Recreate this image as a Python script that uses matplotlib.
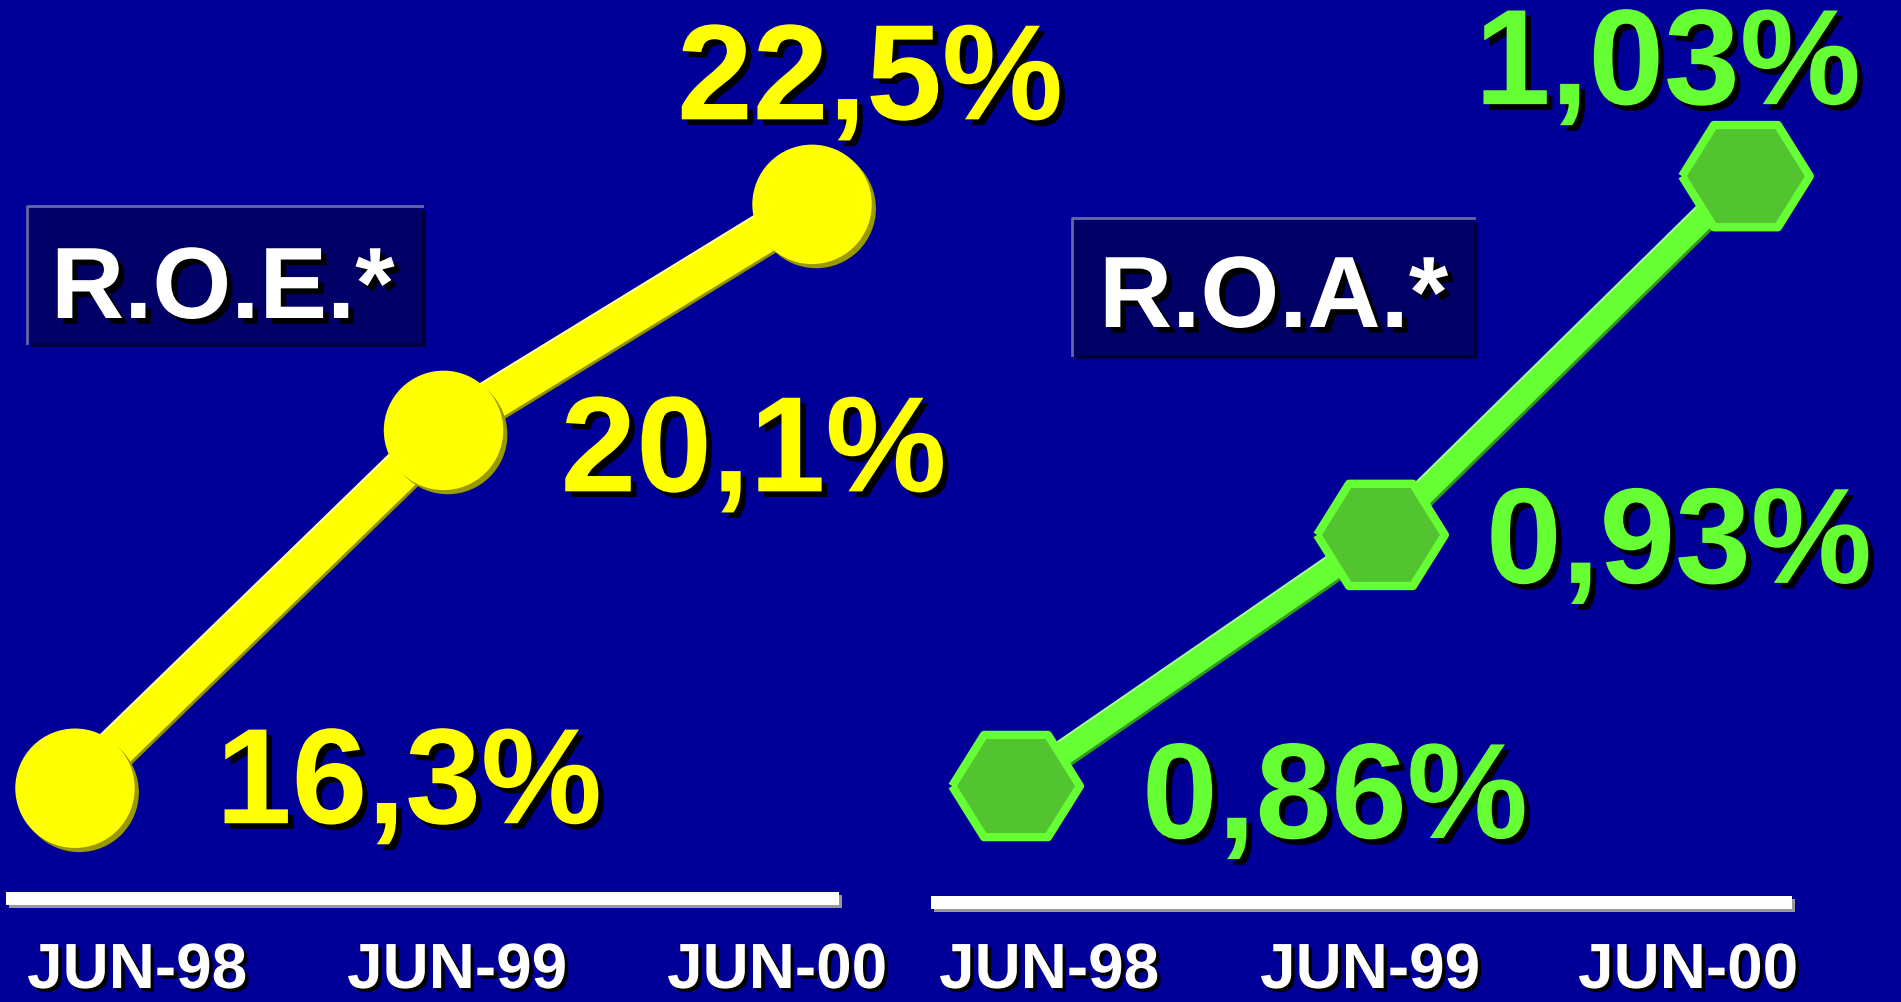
import matplotlib
matplotlib.use('Agg')
import matplotlib.pyplot as plt
import matplotlib.patheffects as pe
from matplotlib.patches import Rectangle
from matplotlib.lines import Line2D

# data
dates = ['JUN-98', 'JUN-99', 'JUN-00']
roe = [16.3, 20.1, 22.5]
roa = [0.86, 0.93, 1.03]
roe_labels = ['16,3%', '20,1%', '22,5%']
roa_labels = ['0,86%', '0,93%', '1,03%']

W, H = 1901, 1002
BG = '#000099'
YELLOW = '#ffff00'
GREEN = '#66ff33'
FONT = 'Liberation Sans'

fig = plt.figure(figsize=(W / 100, H / 100), dpi=100)
fig.patch.set_facecolor(BG)


def fx(x):
    return x / W


def fy(y):
    # y measured from the top of the picture
    return 1 - y / H


txt_shadow = [pe.SimplePatchShadow(offset=(4, -4), shadow_rgbFace='black', alpha=1), pe.Normal()]

# flat-topped hexagon, a bit wider than tall
hexagon = [(-1, 0), (-0.5, 0.8), (0.5, 0.8), (1, 0), (0.5, -0.8), (-0.5, -0.8), (-1, 0)]

# ---- left panel: R.O.E.
ax1 = fig.add_axes([0, 0, 1, 1])
ax1.set_xlim(-0.2035, 4.955)
ax1.set_ylim(14.03, 24.67)
ax1.axis('off')
ax1.patch.set_alpha(0)

ax1.plot(range(3), roe, color=YELLOW, lw=28, solid_capstyle='butt',
         path_effects=[pe.SimpleLineShadow(offset=(1.5, -1.5), shadow_color='#8f8f00', alpha=1),
                       pe.SimpleLineShadow(offset=(-1, 1), shadow_color='#ffff99', alpha=1),
                       pe.Normal()])
ax1.plot(range(3), roe, ls='none', marker='o', ms=86, mfc=YELLOW, mec=YELLOW, mew=0,
         path_effects=[pe.SimplePatchShadow(offset=(3, -3), shadow_rgbFace='#9a9a00', alpha=1), pe.Normal()])

roe_offsets = [(141, -35), (117, -61), (-135, 85)]
for i, (v, lab) in enumerate(zip(roe, roe_labels)):
    ax1.annotate(lab, (i, v), xytext=roe_offsets[i], textcoords='offset pixels',
                 ha='left', va='baseline', fontsize=98, fontweight='bold', family=FONT,
                 color=YELLOW, path_effects=txt_shadow)

# ---- right panel: R.O.A.
ax2 = fig.add_axes([0, 0, 1, 1])
ax2.set_xlim(-2.784, 2.425)
ax2.set_ylim(0.7998, 1.0791)
ax2.axis('off')
ax2.patch.set_alpha(0)

ax2.plot(range(3), roa, color=GREEN, lw=17, solid_capstyle='butt',
         path_effects=[pe.SimpleLineShadow(offset=(1.5, -1.5), shadow_color='#2f9a1f', alpha=1),
                       pe.SimpleLineShadow(offset=(-1, 1), shadow_color='#a6ff88', alpha=1),
                       pe.Normal()])
ax2.plot(range(3), roa, ls='none', marker=hexagon, ms=92, mfc='#52c430', mec=GREEN, mew=6,
         path_effects=[pe.SimplePatchShadow(offset=(2, -2), shadow_rgbFace='#2f8a1f', alpha=1), pe.Normal()])

roa_offsets = [(126, -52), (105, -48), (-271, 72)]
for i, (v, lab) in enumerate(zip(roa, roa_labels)):
    ax2.annotate(lab, (i, v), xytext=roa_offsets[i], textcoords='offset pixels',
                 ha='left', va='baseline', fontsize=98, fontweight='bold', family=FONT,
                 color=GREEN, path_effects=txt_shadow)

# ---- title boxes
for (x0, y0, x1, y1, tx, ty, label) in [(27, 206, 422, 343, 51, 318, 'R.O.E.*'),
                                         (1072, 218, 1474, 355, 1099, 327, 'R.O.A.*')]:
    box = Rectangle((fx(x0), fy(y1)), fx(x1 - x0), (y1 - y0) / H, transform=fig.transFigure,
                    facecolor='#000066', edgecolor='none',
                    path_effects=[pe.SimplePatchShadow(offset=(3, -3), shadow_rgbFace='#00003a', alpha=1),
                                  pe.Normal()])
    fig.add_artist(box)
    fig.add_artist(Line2D([fx(x0), fx(x0), fx(x1)], [fy(y1), fy(y0), fy(y0)],
                          transform=fig.transFigure, color='#6666aa', lw=2))
    fig.text(fx(tx), fy(ty), label, ha='left', va='baseline', fontsize=73, fontweight='bold',
             family=FONT, color='white', path_effects=txt_shadow)

# ---- baselines
for (x0, x1, y0, y1) in [(6, 839, 892, 905), (931, 1792, 896, 909)]:
    bar = Rectangle((fx(x0), fy(y1)), fx(x1 - x0), (y1 - y0) / H, transform=fig.transFigure,
                    facecolor='white', edgecolor='none',
                    path_effects=[pe.SimplePatchShadow(offset=(2.5, -2.5), shadow_rgbFace='#999999', alpha=1),
                                  pe.Normal()])
    fig.add_artist(bar)

# ---- date labels
date_x = [[137, 457, 777], [1049, 1370, 1688]]
for xs in date_x:
    for x, d in zip(xs, dates):
        fig.text(fx(x), fy(1001), d, ha='center', va='bottom', fontsize=46, fontweight='bold',
                 family=FONT, color='white',
                 path_effects=[pe.SimplePatchShadow(offset=(2.5, -2.5), shadow_rgbFace='black', alpha=1),
                               pe.Normal()])

fig.savefig('out.png', dpi=100, facecolor=BG)
